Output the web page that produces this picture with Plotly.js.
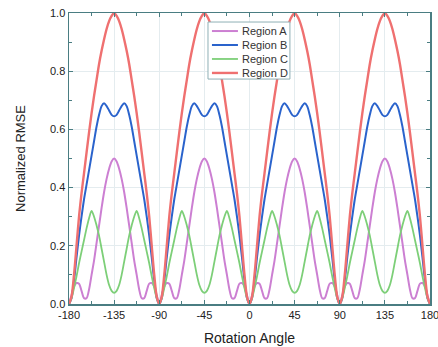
<!DOCTYPE html>
<html>
<head>
<meta charset="utf-8">
<script src="https://cdn.plot.ly/plotly-3.0.1.min.js"></script>
<style>
html,body{margin:0;padding:0;background:#fff;}
#chart{width:438px;height:347px;}
</style>
</head>
<body>
<div id="chart"></div>
<script>
const angles = [-180,-177.5,-175,-172.5,-170,-167.5,-165,-162.5,-160,-157.5,-155,-152.5,-150,-147.5,-145,-142.5,-140,-137.5,-135,-132.5,-130,-127.5,-125,-122.5,-120,-117.5,-115,-112.5,-110,-107.5,-105,-102.5,-100,-97.5,-95,-92.5,-90,-87.5,-85,-82.5,-80,-77.5,-75,-72.5,-70,-67.5,-65,-62.5,-60,-57.5,-55,-52.5,-50,-47.5,-45,-42.5,-40,-37.5,-35,-32.5,-30,-27.5,-25,-22.5,-20,-17.5,-15,-12.5,-10,-7.5,-5,-2.5,0,2.5,5,7.5,10,12.5,15,17.5,20,22.5,25,27.5,30,32.5,35,37.5,40,42.5,45,47.5,50,52.5,55,57.5,60,62.5,65,67.5,70,72.5,75,77.5,80,82.5,85,87.5,90,92.5,95,97.5,100,102.5,105,107.5,110,112.5,115,117.5,120,122.5,125,127.5,130,132.5,135,137.5,140,142.5,145,147.5,150,152.5,155,157.5,160,162.5,165,167.5,170,172.5,175,177.5,180];

const regionA = [0,
0.03,0.06,0.072,0.07,0.045,0.02,0.02,0.05,0.10,0.15,0.21,0.27,0.33,0.385,0.43,0.465,0.49,0.5,0.49,0.465,0.43,0.385,0.33,0.27,0.21,0.15,0.10,0.05,0.02,0.02,0.045,0.07,0.072,0.06,0.03,0,
0.03,0.06,0.072,0.07,0.045,0.02,0.02,0.05,0.10,0.15,0.21,0.27,0.33,0.385,0.43,0.465,0.49,0.5,0.49,0.465,0.43,0.385,0.33,0.27,0.21,0.15,0.10,0.05,0.02,0.02,0.045,0.07,0.072,0.06,0.03,0,
0.03,0.06,0.072,0.07,0.045,0.02,0.02,0.05,0.10,0.15,0.21,0.27,0.33,0.385,0.43,0.465,0.49,0.5,0.49,0.465,0.43,0.385,0.33,0.27,0.21,0.15,0.10,0.05,0.02,0.02,0.045,0.07,0.072,0.06,0.03,0,
0.03,0.06,0.072,0.07,0.045,0.02,0.02,0.05,0.10,0.15,0.21,0.27,0.33,0.385,0.43,0.465,0.49,0.5,0.49,0.465,0.43,0.385,0.33,0.27,0.21,0.15,0.10,0.05,0.02,0.02,0.045,0.07,0.072,0.06,0.03,0];

const regionB = [0,
0.02,0.08,0.16,0.235,0.30,0.36,0.41,0.46,0.51,0.56,0.61,0.65,0.68,0.69,0.68,0.665,0.65,0.645,0.65,0.665,0.68,0.69,0.68,0.65,0.61,0.56,0.51,0.46,0.41,0.36,0.30,0.235,0.16,0.08,0.02,0,
0.02,0.08,0.16,0.235,0.30,0.36,0.41,0.46,0.51,0.56,0.61,0.65,0.68,0.69,0.68,0.665,0.65,0.645,0.65,0.665,0.68,0.69,0.68,0.65,0.61,0.56,0.51,0.46,0.41,0.36,0.30,0.235,0.16,0.08,0.02,0,
0.02,0.08,0.16,0.235,0.30,0.36,0.41,0.46,0.51,0.56,0.61,0.65,0.68,0.69,0.68,0.665,0.65,0.645,0.65,0.665,0.68,0.69,0.68,0.65,0.61,0.56,0.51,0.46,0.41,0.36,0.30,0.235,0.16,0.08,0.02,0,
0.02,0.08,0.16,0.235,0.30,0.36,0.41,0.46,0.51,0.56,0.61,0.65,0.68,0.69,0.68,0.665,0.65,0.645,0.65,0.665,0.68,0.69,0.68,0.65,0.61,0.56,0.51,0.46,0.41,0.36,0.30,0.235,0.16,0.08,0.02,0];

const regionC = [0,
0.02,0.055,0.095,0.14,0.18,0.22,0.26,0.295,0.32,0.30,0.27,0.235,0.19,0.145,0.10,0.065,0.045,0.038,0.045,0.065,0.10,0.145,0.19,0.235,0.27,0.30,0.32,0.295,0.26,0.22,0.18,0.14,0.095,0.055,0.02,0,
0.02,0.055,0.095,0.14,0.18,0.22,0.26,0.295,0.32,0.30,0.27,0.235,0.19,0.145,0.10,0.065,0.045,0.038,0.045,0.065,0.10,0.145,0.19,0.235,0.27,0.30,0.32,0.295,0.26,0.22,0.18,0.14,0.095,0.055,0.02,0,
0.02,0.055,0.095,0.14,0.18,0.22,0.26,0.295,0.32,0.30,0.27,0.235,0.19,0.145,0.10,0.065,0.045,0.038,0.045,0.065,0.10,0.145,0.19,0.235,0.27,0.30,0.32,0.295,0.26,0.22,0.18,0.14,0.095,0.055,0.02,0,
0.02,0.055,0.095,0.14,0.18,0.22,0.26,0.295,0.32,0.30,0.27,0.235,0.19,0.145,0.10,0.065,0.045,0.038,0.045,0.065,0.10,0.145,0.19,0.235,0.27,0.30,0.32,0.295,0.26,0.22,0.18,0.14,0.095,0.055,0.02,0];

const regionD = [0,
0.025,0.10,0.20,0.30,0.38,0.45,0.52,0.59,0.655,0.715,0.77,0.825,0.87,0.91,0.945,0.972,0.99,1.0,0.99,0.972,0.945,0.91,0.87,0.825,0.77,0.715,0.655,0.59,0.52,0.45,0.38,0.30,0.20,0.10,0.025,0,
0.025,0.10,0.20,0.30,0.38,0.45,0.52,0.59,0.655,0.715,0.77,0.825,0.87,0.91,0.945,0.972,0.99,1.0,0.99,0.972,0.945,0.91,0.87,0.825,0.77,0.715,0.655,0.59,0.52,0.45,0.38,0.30,0.20,0.10,0.025,0,
0.025,0.10,0.20,0.30,0.38,0.45,0.52,0.59,0.655,0.715,0.77,0.825,0.87,0.91,0.945,0.972,0.99,1.0,0.99,0.972,0.945,0.91,0.87,0.825,0.77,0.715,0.655,0.59,0.52,0.45,0.38,0.30,0.20,0.10,0.025,0,
0.025,0.10,0.20,0.30,0.38,0.45,0.52,0.59,0.655,0.715,0.77,0.825,0.87,0.91,0.945,0.972,0.99,1.0,0.99,0.972,0.945,0.91,0.87,0.825,0.77,0.715,0.655,0.59,0.52,0.45,0.38,0.30,0.20,0.10,0.025,0];

const seriesNames = ['Region A','Region B','Region C','Region D'];
const xTickVals = [-180,-135,-90,-45,0,45,90,135,180];
const yTickVals = [0,0.2,0.4,0.6,0.8,1.0];

const colors = ['#cc7fd2','#2a63cc','#7dcf78','#ef7070'];
const widths = [2,2,1.8,2.4];
const seriesData = [regionA, regionB, regionC, regionD];

const traces = seriesData.map((ys,i)=>({
  x: angles, y: ys, type:'scatter', mode:'lines', name: seriesNames[i],
  line:{color:colors[i], width:widths[i], shape:'spline', smoothing:0.8},
  showlegend:false
}));

const axisColor = '#4a7d82';
const font = {family:'Liberation Sans, Arial, sans-serif', size:11, color:'#222'};

// manual legend (paper coords)
const legX0 = 0.385, legX1 = 0.612, legY0 = 0.773, legY1 = 0.969;
const rowY = [0.938, 0.890, 0.842, 0.794];
const shapes = [{type:'rect', xref:'paper', yref:'paper', x0:legX0, x1:legX1, y0:legY0, y1:legY1,
  fillcolor:'#ffffff', line:{color:'#8fb0b5', width:1}, layer:'above'}];
const annotations = [];
seriesNames.forEach((n,i)=>{
  shapes.push({type:'line', xref:'paper', yref:'paper', x0:0.396, x1:0.468, y0:rowY[i], y1:rowY[i],
    line:{color:colors[i], width:widths[i]}, layer:'above'});
  annotations.push({xref:'paper', yref:'paper', x:0.474, y:rowY[i], xanchor:'left', yanchor:'middle',
    text:n, showarrow:false, font:{family:font.family, size:11, color:'#333'}});
});

const layout = {
  width:438, height:347,
  margin:{l:69, r:8, t:13, b:43},
  paper_bgcolor:'#fff', plot_bgcolor:'#fff',
  font: font,
  showlegend:false,
  xaxis:{
    range:[-180,180], tickvals:xTickVals, ticktext:xTickVals.map(String),
    showline:true, linecolor:axisColor, linewidth:1.5, mirror:'allticks',
    ticks:'inside', ticklen:4, tickcolor:axisColor, tickwidth:1,
    minor:{tickvals:[-157.5,-112.5,-67.5,-22.5,22.5,67.5,112.5,157.5], ticks:'inside', ticklen:3, tickcolor:axisColor, showgrid:false},
    showgrid:true, gridcolor:'#e4ecef', gridwidth:1, zeroline:false,
    tickfont:{family:font.family, size:11, color:'#222'},
    ticklabeloverflow:'allow',
    title:{text:'Rotation Angle', font:{family:font.family, size:14, color:'#222'}, standoff:13},
    automargin:false
  },
  yaxis:{
    range:[0,1], tickvals:yTickVals, ticktext:yTickVals.map(v=>v.toFixed(1)),
    showline:true, linecolor:axisColor, linewidth:1.5, mirror:'allticks',
    ticks:'inside', ticklen:4, tickcolor:axisColor, tickwidth:1,
    minor:{tickvals:[0.1,0.3,0.5,0.7,0.9], ticks:'inside', ticklen:3, tickcolor:axisColor, showgrid:false},
    showgrid:true, gridcolor:'#e4ecef', gridwidth:1, zeroline:false,
    tickfont:{family:font.family, size:11, color:'#222'},
    ticklabeloverflow:'allow',
    title:{text:'Normalized RMSE', font:{family:font.family, size:13, color:'#222'}, standoff:21},
    automargin:false
  },
  shapes: shapes,
  annotations: annotations
};

Plotly.newPlot('chart', traces, layout, {displayModeBar:false, staticPlot:true});
</script>
</body>
</html>
